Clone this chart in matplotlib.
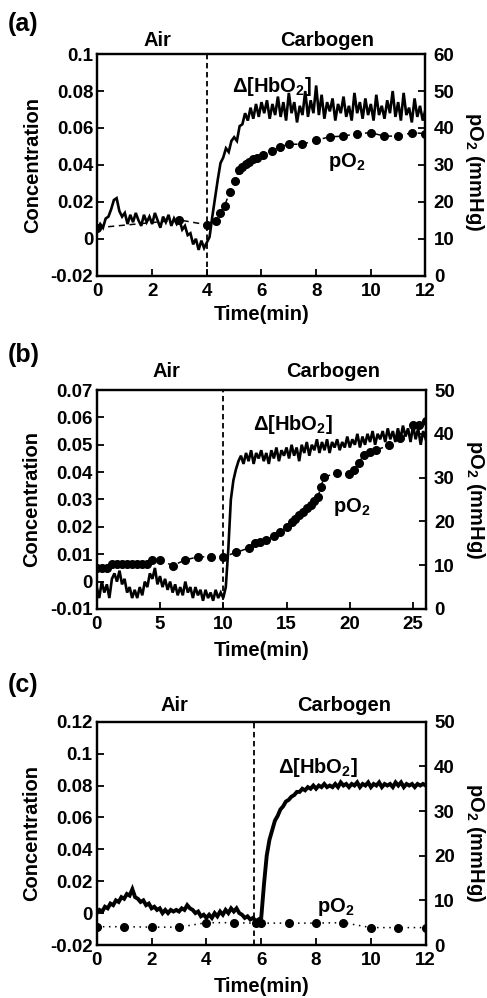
import numpy as np
import matplotlib
matplotlib.use("Agg")
import matplotlib.pyplot as plt
from matplotlib.ticker import FuncFormatter

plt.rcParams["font.family"] = ["Liberation Sans", "DejaVu Sans"]
plt.rcParams["font.weight"] = "bold"
plt.rcParams["axes.unicode_minus"] = False
plt.rcParams["mathtext.fontset"] = "custom"
plt.rcParams["mathtext.rm"] = "Liberation Sans:bold"
plt.rcParams["mathtext.it"] = "Liberation Sans:bold"
plt.rcParams["mathtext.bf"] = "Liberation Sans:bold"
plt.rcParams["mathtext.default"] = "rm"

# ---- panel (a) ----
# HbO2 trace, one sample every 0.1 min from 0 to 12 min
hbo_a = [0.005, 0.008, 0.006, 0.011, 0.012, 0.016, 0.021, 0.022, 0.015, 0.012,
         0.014, 0.008, 0.013, 0.009, 0.014, 0.010, 0.007, 0.013, 0.009, 0.012,
         0.008, 0.014, 0.010, 0.006, 0.012, 0.009, 0.013, 0.007, 0.011, 0.008,
         0.010, 0.005, 0.007, 0.002, 0.003, -0.003, 0.000, -0.006, -0.001, -0.005,
         -0.002, 0.001, 0.012, 0.022, 0.032, 0.041, 0.044, 0.049, 0.047, 0.053,
         0.055, 0.053, 0.061, 0.062, 0.068, 0.064, 0.071, 0.065, 0.073, 0.066,
         0.074,
         0.068, 0.075, 0.065, 0.073, 0.067, 0.077, 0.066, 0.074, 0.064, 0.079,
         0.068, 0.074, 0.063, 0.072, 0.067, 0.080, 0.066, 0.075, 0.068, 0.083,
         0.067, 0.078, 0.065, 0.074, 0.069, 0.076, 0.064, 0.073, 0.068, 0.077,
         0.066, 0.072, 0.064, 0.079, 0.068, 0.074, 0.065, 0.076, 0.067, 0.073,
         0.064, 0.078, 0.067, 0.072, 0.065, 0.075, 0.068, 0.080, 0.066, 0.074,
         0.064, 0.079, 0.067, 0.071, 0.063, 0.076, 0.066, 0.072, 0.064, 0.070]
t_po2_a = [0, 3.0, 4.0, 4.33, 4.47, 4.65, 4.84, 5.02, 5.17, 5.3, 5.42, 5.55, 5.7,
           5.85, 6.05, 6.37, 6.67, 7.0, 7.5, 8.0, 8.5, 9.0, 9.5, 10.0, 10.5,
           11.0, 11.5, 12.0]
po2_a = [13.0, 15.1, 13.8, 14.8, 17.0, 19.0, 22.6, 25.7, 28.5, 29.5, 30.3, 30.8,
         31.5, 32.0, 32.7, 33.8, 34.9, 35.6, 35.6, 36.7, 37.6, 37.8, 38.5, 38.7,
         37.8, 37.8, 38.7, 38.5]

# ---- panel (b) ----
# HbO2 trace, one sample every 0.2 min from 0 to 26 min
hbo_b = [-0.002, -0.006, 0.000, -0.004, -0.001, -0.006, 0.001, 0.003, 0.000, 0.004,
         -0.001, 0.001, -0.004, -0.002, -0.006, -0.003, -0.006, -0.002, -0.005, 0.000,
         -0.002, 0.003, 0.001, 0.005, -0.001, 0.002, -0.002, 0.001, -0.003, 0.000,
         -0.004, -0.001, -0.005, -0.002, -0.005, 0.000, -0.004, -0.002, -0.006, -0.002,
         -0.005, -0.003, -0.007, -0.003, -0.006, -0.004, -0.007, -0.003, -0.006, -0.004,
         -0.006,
         -0.002, 0.012, 0.030, 0.037, 0.041, 0.044, 0.046, 0.043, 0.047,
         0.044, 0.048, 0.043, 0.047, 0.045, 0.048, 0.044, 0.047, 0.043, 0.048,
         0.045, 0.049, 0.044, 0.048, 0.046, 0.049, 0.045, 0.050, 0.046, 0.049,
         0.044, 0.050, 0.047, 0.051, 0.046, 0.050, 0.048, 0.052, 0.047, 0.051,
         0.048, 0.052, 0.047, 0.051, 0.049, 0.052, 0.048, 0.051, 0.049, 0.053,
         0.049, 0.052, 0.050, 0.054, 0.049, 0.053, 0.050, 0.054, 0.051, 0.055,
         0.050, 0.054, 0.052, 0.055, 0.051, 0.056, 0.052, 0.055, 0.051, 0.056,
         0.052, 0.057, 0.053, 0.056, 0.051, 0.057, 0.052, 0.056, 0.050, 0.055,
         0.052]
t_po2_b = [0, 0.4, 0.8, 1.2, 1.6, 2.0, 2.4, 2.8, 3.2, 3.6, 4.0, 4.4, 5.0, 6.0,
           7.0, 8.0, 9.0, 10.0, 11.0, 12.0, 12.5, 12.9, 13.4, 14.0, 14.5, 15.0,
           15.4, 15.7, 16.0, 16.3, 16.6, 16.9, 17.2, 17.5, 17.7, 18.0, 19.0,
           19.9, 20.3, 20.7, 21.1, 21.6, 22.1, 23.1, 24.0, 25.0, 25.5, 26.0]
po2_b = [9.4, 9.4, 9.4, 10.3, 10.3, 10.3, 10.3, 10.3, 10.3, 10.3, 10.3, 11.2,
         11.2, 9.9, 11.2, 11.9, 11.9, 11.9, 12.9, 13.9, 15.0, 15.2, 15.8, 16.6,
         17.6, 18.8, 19.8, 20.6, 21.4, 22.2, 23.0, 23.8, 24.7, 25.6, 27.9, 30.2,
         31.0, 30.8, 31.7, 33.3, 35.2, 35.9, 36.3, 37.4, 39.0, 42.0, 42.0, 43.0]

# ---- panel (c) ----
# HbO2 trace, one sample every 0.1 min from 0 to 12 min
hbo_c = [0.000, 0.002, 0.001, 0.004, 0.003, 0.006, 0.005, 0.008, 0.007, 0.010,
         0.009, 0.012, 0.011, 0.015, 0.010, 0.009, 0.007, 0.008, 0.005, 0.006,
         0.003, 0.004, 0.002, 0.003, 0.000, 0.002, 0.000, 0.002, 0.001, 0.002,
         0.001, 0.003, 0.002, 0.005, 0.003, 0.002, 0.000, 0.001, -0.002, -0.001,
         -0.003, -0.001, -0.003, 0.000, -0.002, 0.001, -0.001, 0.002, 0.000, 0.003,
         0.001, 0.003, 0.000, -0.001, -0.003, -0.002, -0.004, -0.003, -0.005, -0.004,
         -0.003,
         0.018, 0.036, 0.046, 0.052, 0.058, 0.061, 0.065, 0.067, 0.070,
         0.071, 0.073, 0.074, 0.076, 0.076, 0.078, 0.077, 0.079, 0.078, 0.080,
         0.078, 0.080, 0.079, 0.081, 0.079, 0.080, 0.079, 0.081, 0.079, 0.082,
         0.080, 0.081, 0.079, 0.081, 0.080, 0.082, 0.079, 0.081, 0.080, 0.082,
         0.079, 0.081, 0.080, 0.082, 0.079, 0.081, 0.080, 0.081, 0.079, 0.082,
         0.080, 0.082, 0.079, 0.081, 0.080, 0.081, 0.079, 0.081, 0.080, 0.081,
         0.080]
t_po2_c = [0, 1, 2, 3, 4, 5, 5.8, 6, 7, 8, 9, 10, 11, 12]
po2_c = [4.1, 4.1, 4.0, 4.0, 5.0, 5.0, 4.9, 4.9, 4.9, 4.9, 5.0, 3.9, 3.9, 3.9]

t_a = np.arange(len(hbo_a)) * 0.1
t_b = np.arange(len(hbo_b)) * 0.2
t_c = np.arange(len(hbo_c)) * 0.1

fig = plt.figure(figsize=(4.87, 9.98), dpi=100)

panels = [
    dict(rect=[0.2002, 0.7237, 0.6735, 0.2221], letter="(a)", ly=0.976,
         t=t_a, hbo=hbo_a, tp=t_po2_a, po2=po2_a, ls=(0, (4, 3)), lw=1.9,
         switch=4.0, xlim=(0, 12), xticks=range(0, 13, 2),
         ylim=(-0.02, 0.1), yticks=np.arange(-0.02, 0.101, 0.02),
         y2lim=(0, 60), y2ticks=range(0, 61, 10),
         head=(0.184, 0.699, 1.063), hbo_txt=(4.91, 0.0794), po2_txt=(8.43, 0.039),
         xlab_y=-0.177, y2lab_y=0.47),
    dict(rect=[0.1986, 0.3898, 0.6756, 0.2194], letter="(b)", ly=0.644,
         t=t_b, hbo=hbo_b, tp=t_po2_b, po2=po2_b, ls=(0, (4, 3)), lw=1.9,
         switch=10.0, xlim=(0, 26), xticks=range(0, 26, 5),
         ylim=(-0.01, 0.07), yticks=np.arange(-0.01, 0.071, 0.01),
         y2lim=(0, 50), y2ticks=range(0, 51, 10),
         head=(0.211, 0.720, 1.084), hbo_txt=(12.36, 0.0554), po2_txt=(18.68, 0.0256),
         xlab_y=-0.19, y2lab_y=0.5),
    dict(rect=[0.1986, 0.0531, 0.6756, 0.2237], letter="(c)", ly=0.3136,
         t=t_c, hbo=hbo_c, tp=t_po2_c, po2=po2_c, ls=(0, (1, 3)), lw=2.8,
         switch=5.75, xlim=(0, 12), xticks=range(0, 13, 2),
         ylim=(-0.02, 0.12), yticks=np.arange(-0.02, 0.121, 0.02),
         y2lim=(0, 50), y2ticks=range(0, 51, 10),
         head=(0.236, 0.751, 1.075), hbo_txt=(6.61, 0.0877), po2_txt=(8.03, 0.0009),
         xlab_y=-0.188, y2lab_y=0.46),
]

fmt = FuncFormatter(lambda v, p: "%g" % round(v, 3))

for p in panels:
    ax = fig.add_axes(p["rect"])
    ax2 = ax.twinx()

    ax.plot(p["t"], p["hbo"], color="black", lw=p["lw"], solid_joinstyle="miter")
    ax.axvline(p["switch"], color="black", lw=1.3, ls=(0, (3, 2)))
    ax2.plot(p["tp"], p["po2"], color="black", lw=1.1, ls=p["ls"],
             marker="o", ms=5.5, mfc="black", mec="black")

    ax.set_xlim(p["xlim"])
    ax.set_ylim(p["ylim"])
    ax2.set_ylim(p["y2lim"])
    ax.set_xticks(list(p["xticks"]))
    ax.set_yticks(p["yticks"])
    ax2.set_yticks(list(p["y2ticks"]))
    ax.yaxis.set_major_formatter(fmt)

    for a in (ax, ax2):
        for s in a.spines.values():
            s.set_linewidth(1.6)
    ax.tick_params(direction="in", length=5, width=1.3, labelsize=13.5, pad=3)
    ax.tick_params(axis="x", pad=5)
    ax2.tick_params(direction="in", length=5, width=1.3, labelsize=13.5, pad=6)

    ax.set_xlabel("Time(min)", fontsize=14.5, fontweight="bold")
    ax.xaxis.label.set_va("center")
    ax.xaxis.set_label_coords(0.5, p["xlab_y"])
    ax.set_ylabel("Concentration", fontsize=14.5, fontweight="bold")
    ax.yaxis.set_label_coords(-0.17, 0.5)
    ax2.text(1.15, p["y2lab_y"], "pO$_2$ (mmHg)", transform=ax2.transAxes,
             rotation=270, ha="center", va="center", fontsize=14.5)

    hx1, hx2, hy = p["head"]
    ax.text(hx1, hy, "Air", transform=ax.transAxes, ha="center", va="center", fontsize=14.5)
    ax.text(hx2, hy, "Carbogen", transform=ax.transAxes, ha="center", va="center",
            fontsize=14.5)
    ax.text(p["hbo_txt"][0], p["hbo_txt"][1], "Δ[HbO$_2$]", ha="left",
            va="baseline", fontsize=14.5)
    ax.text(p["po2_txt"][0], p["po2_txt"][1], "pO$_2$", ha="left",
            va="baseline", fontsize=14.5)

    fig.text(0.016, p["ly"], p["letter"], ha="left", va="center", fontsize=18)

fig.savefig("out.png", dpi=100)
